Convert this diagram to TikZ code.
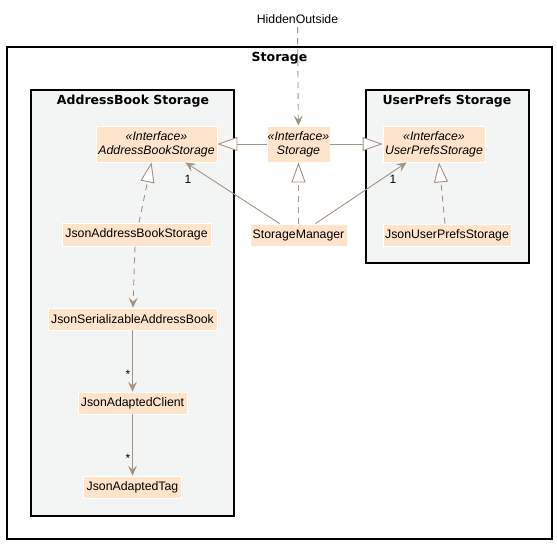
\documentclass[tikz,border=0pt]{standalone}
\usepackage{fontspec}
\setmainfont{Liberation Sans}
\newfontfamily\titlefont{DejaVu Sans}
\usetikzlibrary{arrows.meta}
\definecolor{linebrown}{HTML}{A39282}
\definecolor{classfill}{HTML}{FFE4CC}
\definecolor{pkgfill}{HTML}{F3F5F4}
\tikzset{
  cls/.style={fill=classfill,draw=white,line width=0.8pt,inner sep=0pt,font=\fontsize{12.3}{14}\selectfont},
  iface/.style={cls,align=center,font=\fontsize{12.3}{14}\selectfont\itshape},
  pkg/.style={draw=black,line width=1.3pt},
  pkgtitle/.style={font=\titlefont\bfseries\fontsize{12.5}{14}\selectfont},
  conn/.style={draw=linebrown,line width=0.9pt},
  dep/.style={conn,dash pattern=on 6pt off 5pt},
  arr/.style={-{Stealth[length=10pt,width=9pt,inset=4pt]}},
  realize/.style={-{Triangle[open,length=20pt,width=14pt,fill=white]}}
}
\begin{document}
\begin{tikzpicture}[x=1pt,y=-1pt]
\useasboundingbox (0,0) rectangle (557,544);
% packages
\draw[pkg,fill=white] (7,47) rectangle (552,539);
\node[pkgtitle] (tstorage) at (279.5,58) {Storage};
\draw[pkg,fill=pkgfill] (31,90) rectangle (234,516);
\node[pkgtitle] (tab) at (133,101) {AddressBook Storage};
\draw[pkg,fill=pkgfill] (366,90) rectangle (529,263);
\node[pkgtitle] (tup) at (447,101) {UserPrefs Storage};
% classes
\node[font=\fontsize{12.3}{14}\selectfont] (hidden) at (297.5,19) {HiddenOutside};
\node[iface,minimum width=63,minimum height=36] (storage) at (298.5,144) {«Interface»\\Storage};
\node[iface,minimum width=121,minimum height=36] (abs) at (156.5,144) {«Interface»\\AddressBookStorage};
\node[iface,minimum width=102,minimum height=36] (ups) at (434,144) {«Interface»\\UserPrefsStorage};
\node[cls,minimum width=97,minimum height=22] (mgr) at (298.5,235) {StorageManager};
\node[cls,minimum width=149,minimum height=23] (jabs) at (136.5,234.5) {JsonAddressBookStorage};
\node[cls,minimum width=128,minimum height=22] (jups) at (447,235) {JsonUserPrefsStorage};
\node[cls,minimum width=169,minimum height=22] (jsab) at (132.5,319) {JsonSerializableAddressBook};
\node[cls,minimum width=109,minimum height=22] (jac) at (132.5,403) {JsonAdaptedClient};
\node[cls,minimum width=98,minimum height=22] (jat) at (132.5,487) {JsonAdaptedTag};
% connectors
\draw[dep,arr] (hidden) -- (storage);
\draw[conn,realize] (storage) -- (abs);
\draw[conn,realize] (storage) -- (ups);
\draw[dep,realize] (mgr) -- (storage);
\draw[dep,realize] ([xshift=2.5]jabs.north) -- ([xshift=-5]abs.south);
\draw[dep,realize] ([xshift=-2]jups.north) -- ([xshift=5]ups.south);
\draw[conn,arr] ([xshift=30]mgr.north west) -- ([xshift=-32]abs.south east);
\draw[conn,arr] ([xshift=-32]mgr.north east) -- ([xshift=24]ups.south west);
\draw[dep,arr] ([xshift=-1.5]jabs.south) -- (jsab);
\draw[conn,arr] (jsab) -- (jac);
\draw[conn,arr] (jac) -- (jat);
% multiplicities
\node[font=\fontsize{12}{14}\selectfont] (m1) at (188,179) {1};
\node[font=\fontsize{12}{14}\selectfont] (m2) at (393,179) {1};
\node[font=\fontsize{12}{14}\selectfont] (m3) at (128,374) {*};
\node[font=\fontsize{12}{14}\selectfont] (m4) at (128,458) {*};
\end{tikzpicture}
\end{document}
